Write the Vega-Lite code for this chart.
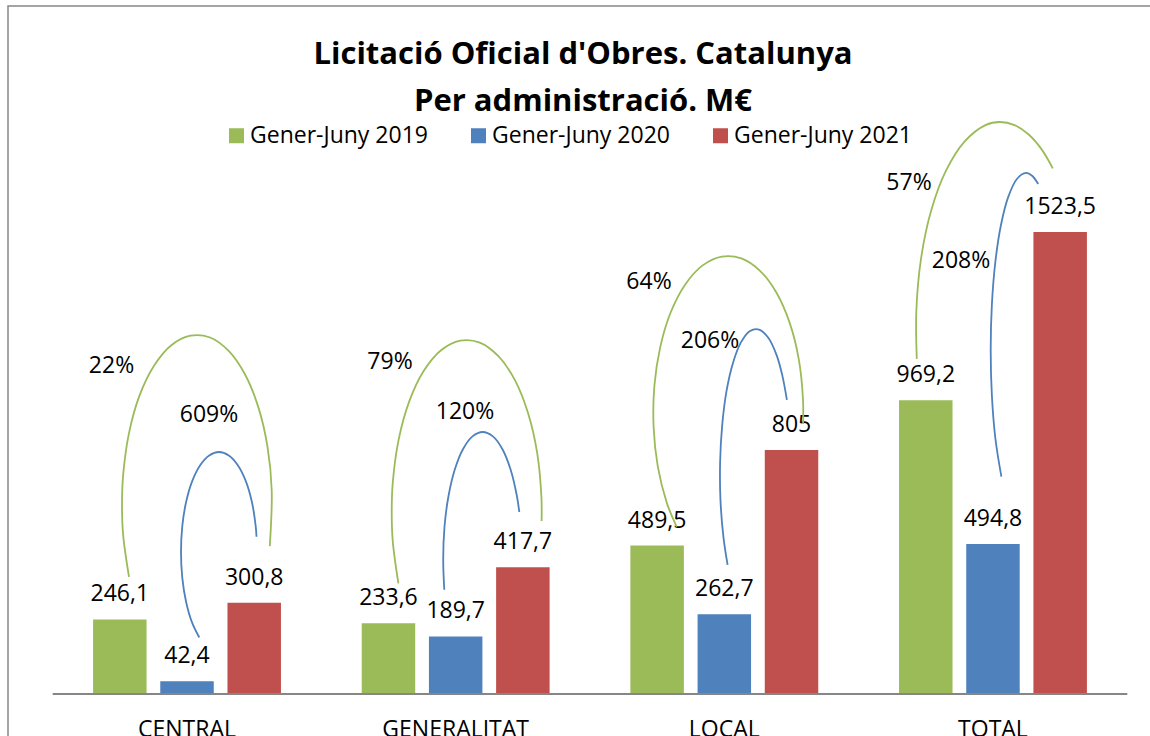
{
  "$schema": "https://vega.github.io/schema/vega-lite/v6.json",
  "width": 1144,
  "height": 732,
  "autosize": {"type": "none"},
  "padding": {"left": 8, "top": 6, "right": -2, "bottom": -2},
  "background": "#ffffff",
  "config": {
    "view": {"stroke": "#868686", "strokeWidth": 1.5},
    "font": "Open Sans",
    "text": {"font": "Open Sans", "fontSize": 23, "color": "#000000"},
    "locale": {"number": {"decimal": ",", "thousands": ".", "grouping": [3], "currency": ["", " €"]}}
  },
  "title": {
    "text": ["Licitació Oficial d'Obres. Catalunya", "Per administració. M€"],
    "font": "Open Sans",
    "fontSize": 31,
    "fontWeight": "bold",
    "color": "#000000",
    "lineHeight": 47,
    "anchor": "middle",
    "baseline": "alphabetic",
    "offset": -136,
    "dx": 3
  },
  "datasets": {
    "bars": [
      {"cat": "CENTRAL", "serie": "Gener-Juny 2019", "value": 246.1},
      {"cat": "CENTRAL", "serie": "Gener-Juny 2020", "value": 42.4},
      {"cat": "CENTRAL", "serie": "Gener-Juny 2021", "value": 300.8},
      {"cat": "GENERALITAT", "serie": "Gener-Juny 2019", "value": 233.6},
      {"cat": "GENERALITAT", "serie": "Gener-Juny 2020", "value": 189.7},
      {"cat": "GENERALITAT", "serie": "Gener-Juny 2021", "value": 417.7},
      {"cat": "LOCAL", "serie": "Gener-Juny 2019", "value": 489.5},
      {"cat": "LOCAL", "serie": "Gener-Juny 2020", "value": 262.7},
      {"cat": "LOCAL", "serie": "Gener-Juny 2021", "value": 805},
      {"cat": "TOTAL", "serie": "Gener-Juny 2019", "value": 969.2},
      {"cat": "TOTAL", "serie": "Gener-Juny 2020", "value": 494.8},
      {"cat": "TOTAL", "serie": "Gener-Juny 2021", "value": 1523.5}
    ],
    "pcts": [
      {"u": 0.2189, "v": 1081.8, "pct": 0.22},
      {"u": 0.5818, "v": 920.2, "pct": 6.09},
      {"u": 1.2555, "v": 1095.0, "pct": 0.79},
      {"u": 1.5347, "v": 930.1, "pct": 1.20},
      {"u": 2.2196, "v": 1358.9, "pct": 0.64},
      {"u": 2.4467, "v": 1164.3, "pct": 2.06},
      {"u": 3.1874, "v": 1685.4, "pct": 0.57},
      {"u": 3.3810, "v": 1428.1, "pct": 2.08}
    ],
    "arcs": [
      {"arc": "C19", "from": 2019, "i": 0, "u": 0.2840, "v": 386.2},
      {"arc": "C19", "from": 2019, "i": 1, "u": 0.2621, "v": 525.7},
      {"arc": "C19", "from": 2019, "i": 2, "u": 0.2580, "v": 623.4},
      {"arc": "C19", "from": 2019, "i": 3, "u": 0.2621, "v": 721.0},
      {"arc": "C19", "from": 2019, "i": 4, "u": 0.2840, "v": 860.5},
      {"arc": "C19", "from": 2019, "i": 5, "u": 0.3231, "v": 983.9},
      {"arc": "C19", "from": 2019, "i": 6, "u": 0.3771, "v": 1082.5},
      {"arc": "C19", "from": 2019, "i": 7, "u": 0.4415, "v": 1150.4},
      {"arc": "C19", "from": 2019, "i": 8, "u": 0.5129, "v": 1181.7},
      {"arc": "C19", "from": 2019, "i": 9, "u": 0.5859, "v": 1175.8},
      {"arc": "C19", "from": 2019, "i": 10, "u": 0.6551, "v": 1131.3},
      {"arc": "C19", "from": 2019, "i": 11, "u": 0.7165, "v": 1052.8},
      {"arc": "C19", "from": 2019, "i": 12, "u": 0.7657, "v": 945.3},
      {"arc": "C19", "from": 2019, "i": 13, "u": 0.7996, "v": 815.0},
      {"arc": "C19", "from": 2019, "i": 14, "u": 0.8152, "v": 672.2},
      {"arc": "C19", "from": 2019, "i": 15, "u": 0.8081, "v": 487.8},
      {"arc": "G19", "from": 2019, "i": 0, "u": 1.2868, "v": 364.8},
      {"arc": "G19", "from": 2019, "i": 1, "u": 1.2660, "v": 501.7},
      {"arc": "G19", "from": 2019, "i": 2, "u": 1.2619, "v": 600.3},
      {"arc": "G19", "from": 2019, "i": 3, "u": 1.2660, "v": 698.9},
      {"arc": "G19", "from": 2019, "i": 4, "u": 1.2881, "v": 840.4},
      {"arc": "G19", "from": 2019, "i": 5, "u": 1.3272, "v": 965.0},
      {"arc": "G19", "from": 2019, "i": 6, "u": 1.3808, "v": 1065.0},
      {"arc": "G19", "from": 2019, "i": 7, "u": 1.4456, "v": 1133.6},
      {"arc": "G19", "from": 2019, "i": 8, "u": 1.5168, "v": 1165.3},
      {"arc": "G19", "from": 2019, "i": 9, "u": 1.5896, "v": 1159.0},
      {"arc": "G19", "from": 2019, "i": 10, "u": 1.6590, "v": 1114.1},
      {"arc": "G19", "from": 2019, "i": 11, "u": 1.7205, "v": 1035.0},
      {"arc": "G19", "from": 2019, "i": 12, "u": 1.7696, "v": 925.8},
      {"arc": "G19", "from": 2019, "i": 13, "u": 1.8035, "v": 794.2},
      {"arc": "G19", "from": 2019, "i": 14, "u": 1.8191, "v": 649.7},
      {"arc": "G19", "from": 2019, "i": 15, "u": 1.8198, "v": 570.6},
      {"arc": "L19", "from": 2019, "i": 0, "u": 2.3227, "v": 551.5},
      {"arc": "L19", "from": 2019, "i": 1, "u": 2.2862, "v": 629.6},
      {"arc": "L19", "from": 2019, "i": 2, "u": 2.2524, "v": 749.7},
      {"arc": "L19", "from": 2019, "i": 3, "u": 2.2367, "v": 881.6},
      {"arc": "L19", "from": 2019, "i": 4, "u": 2.2397, "v": 1016.8},
      {"arc": "L19", "from": 2019, "i": 5, "u": 2.2619, "v": 1145.8},
      {"arc": "L19", "from": 2019, "i": 6, "u": 2.3009, "v": 1259.8},
      {"arc": "L19", "from": 2019, "i": 7, "u": 2.3546, "v": 1350.9},
      {"arc": "L19", "from": 2019, "i": 8, "u": 2.4193, "v": 1413.6},
      {"arc": "L19", "from": 2019, "i": 9, "u": 2.4906, "v": 1442.6},
      {"arc": "L19", "from": 2019, "i": 10, "u": 2.5634, "v": 1436.7},
      {"arc": "L19", "from": 2019, "i": 11, "u": 2.6328, "v": 1395.8},
      {"arc": "L19", "from": 2019, "i": 12, "u": 2.6942, "v": 1323.6},
      {"arc": "L19", "from": 2019, "i": 13, "u": 2.7433, "v": 1224.0},
      {"arc": "L19", "from": 2019, "i": 14, "u": 2.7772, "v": 1103.9},
      {"arc": "L19", "from": 2019, "i": 15, "u": 2.7928, "v": 972.0},
      {"arc": "L19", "from": 2019, "i": 16, "u": 2.7932, "v": 890.5},
      {"arc": "T19", "from": 2019, "i": 0, "u": 3.2164, "v": 1105.2},
      {"arc": "T19", "from": 2019, "i": 1, "u": 3.2146, "v": 1260.2},
      {"arc": "T19", "from": 2019, "i": 2, "u": 3.2321, "v": 1435.0},
      {"arc": "T19", "from": 2019, "i": 3, "u": 3.2700, "v": 1594.4},
      {"arc": "T19", "from": 2019, "i": 4, "u": 3.3251, "v": 1725.9},
      {"arc": "T19", "from": 2019, "i": 5, "u": 3.3940, "v": 1821.9},
      {"arc": "T19", "from": 2019, "i": 6, "u": 3.4718, "v": 1876.3},
      {"arc": "T19", "from": 2019, "i": 7, "u": 3.5261, "v": 1886.6},
      {"arc": "T19", "from": 2019, "i": 8, "u": 3.5805, "v": 1876.3},
      {"arc": "T19", "from": 2019, "i": 9, "u": 3.6330, "v": 1845.3},
      {"arc": "T19", "from": 2019, "i": 10, "u": 3.6825, "v": 1794.6},
      {"arc": "T19", "from": 2019, "i": 11, "u": 3.7227, "v": 1733.5},
      {"arc": "C20", "from": 2020, "i": 0, "u": 0.5457, "v": 186.3},
      {"arc": "C20", "from": 2020, "i": 1, "u": 0.5189, "v": 235.2},
      {"arc": "C20", "from": 2020, "i": 2, "u": 0.4966, "v": 303.4},
      {"arc": "C20", "from": 2020, "i": 3, "u": 0.4824, "v": 382.9},
      {"arc": "C20", "from": 2020, "i": 4, "u": 0.4776, "v": 468.3},
      {"arc": "C20", "from": 2020, "i": 5, "u": 0.4824, "v": 553.8},
      {"arc": "C20", "from": 2020, "i": 6, "u": 0.4966, "v": 633.3},
      {"arc": "C20", "from": 2020, "i": 7, "u": 0.5189, "v": 701.5},
      {"arc": "C20", "from": 2020, "i": 8, "u": 0.5483, "v": 754.0},
      {"arc": "C20", "from": 2020, "i": 9, "u": 0.5825, "v": 787.0},
      {"arc": "C20", "from": 2020, "i": 10, "u": 0.6190, "v": 798.2},
      {"arc": "C20", "from": 2020, "i": 11, "u": 0.6555, "v": 787.0},
      {"arc": "C20", "from": 2020, "i": 12, "u": 0.6897, "v": 754.0},
      {"arc": "C20", "from": 2020, "i": 13, "u": 0.7192, "v": 701.5},
      {"arc": "C20", "from": 2020, "i": 14, "u": 0.7415, "v": 633.3},
      {"arc": "C20", "from": 2020, "i": 15, "u": 0.7556, "v": 553.8},
      {"arc": "C20", "from": 2020, "i": 16, "u": 0.7586, "v": 518.8},
      {"arc": "G20", "from": 2020, "i": 0, "u": 1.4577, "v": 343.7},
      {"arc": "G20", "from": 2020, "i": 1, "u": 1.4536, "v": 442.0},
      {"arc": "G20", "from": 2020, "i": 2, "u": 1.4584, "v": 551.5},
      {"arc": "G20", "from": 2020, "i": 3, "u": 1.4733, "v": 653.0},
      {"arc": "G20", "from": 2020, "i": 4, "u": 1.4967, "v": 740.4},
      {"arc": "G20", "from": 2020, "i": 5, "u": 1.5271, "v": 807.4},
      {"arc": "G20", "from": 2020, "i": 6, "u": 1.5626, "v": 849.6},
      {"arc": "G20", "from": 2020, "i": 7, "u": 1.6006, "v": 864.1},
      {"arc": "G20", "from": 2020, "i": 8, "u": 1.6386, "v": 849.6},
      {"arc": "G20", "from": 2020, "i": 9, "u": 1.6741, "v": 807.4},
      {"arc": "G20", "from": 2020, "i": 10, "u": 1.7044, "v": 740.4},
      {"arc": "G20", "from": 2020, "i": 11, "u": 1.7279, "v": 653.0},
      {"arc": "G20", "from": 2020, "i": 12, "u": 1.7368, "v": 600.3},
      {"arc": "L20", "from": 2020, "i": 0, "u": 2.5122, "v": 425.8},
      {"arc": "L20", "from": 2020, "i": 1, "u": 2.4966, "v": 518.5},
      {"arc": "L20", "from": 2020, "i": 2, "u": 2.4857, "v": 638.5},
      {"arc": "L20", "from": 2020, "i": 3, "u": 2.4843, "v": 764.2},
      {"arc": "L20", "from": 2020, "i": 4, "u": 2.4921, "v": 886.9},
      {"arc": "L20", "from": 2020, "i": 5, "u": 2.5081, "v": 998.7},
      {"arc": "L20", "from": 2020, "i": 6, "u": 2.5319, "v": 1091.0},
      {"arc": "L20", "from": 2020, "i": 7, "u": 2.5613, "v": 1158.7},
      {"arc": "L20", "from": 2020, "i": 8, "u": 2.5944, "v": 1196.6},
      {"arc": "L20", "from": 2020, "i": 9, "u": 2.6294, "v": 1201.9},
      {"arc": "L20", "from": 2020, "i": 10, "u": 2.6637, "v": 1174.8},
      {"arc": "L20", "from": 2020, "i": 11, "u": 2.6949, "v": 1116.8},
      {"arc": "L20", "from": 2020, "i": 12, "u": 2.7158, "v": 1050.8},
      {"arc": "L20", "from": 2020, "i": 13, "u": 2.7329, "v": 970.3},
      {"arc": "T20", "from": 2020, "i": 0, "u": 3.5313, "v": 716.7},
      {"arc": "T20", "from": 2020, "i": 1, "u": 3.5090, "v": 842.7},
      {"arc": "T20", "from": 2020, "i": 2, "u": 3.4960, "v": 983.5},
      {"arc": "T20", "from": 2020, "i": 3, "u": 3.4915, "v": 1134.6},
      {"arc": "T20", "from": 2020, "i": 4, "u": 3.4960, "v": 1285.6},
      {"arc": "T20", "from": 2020, "i": 5, "u": 3.5090, "v": 1426.5},
      {"arc": "T20", "from": 2020, "i": 6, "u": 3.5299, "v": 1547.5},
      {"arc": "T20", "from": 2020, "i": 7, "u": 3.5572, "v": 1640.2},
      {"arc": "T20", "from": 2020, "i": 8, "u": 3.5891, "v": 1698.6},
      {"arc": "T20", "from": 2020, "i": 9, "u": 3.6229, "v": 1718.4},
      {"arc": "T20", "from": 2020, "i": 10, "u": 3.6456, "v": 1709.5},
      {"arc": "T20", "from": 2020, "i": 11, "u": 3.6683, "v": 1682.1}
    ]
  },
  "layer": [
    {
      "data": {"name": "bars"},
      "encoding": {
        "x": {
          "field": "cat", "type": "nominal",
          "sort": ["CENTRAL", "GENERALITAT", "LOCAL", "TOTAL"],
          "scale": {"paddingInner": 0, "paddingOuter": 0.12916, "align": 0.644},
          "axis": {
            "orient": "bottom", "offset": -44, "title": null, "domain": false,
            "ticks": false, "tickSize": 0, "labelPadding": 24, "labelAngle": 0,
            "labelFont": "Open Sans", "labelFontSize": 23, "labelColor": "#000000", "grid": false
          }
        },
        "xOffset": {
          "field": "serie", "type": "nominal",
          "sort": ["Gener-Juny 2019", "Gener-Juny 2020", "Gener-Juny 2021"],
          "scale": {"paddingInner": 0.204, "paddingOuter": 0.601}
        },
        "y": {
          "field": "value", "type": "quantitative",
          "scale": {"domain": [-145.1, 2269.1], "nice": false, "zero": false},
          "axis": null
        }
      },
      "layer": [
        {
          "mark": {"type": "bar"},
          "encoding": {
            "color": {
              "field": "serie", "type": "nominal",
              "scale": {
                "domain": ["Gener-Juny 2019", "Gener-Juny 2020", "Gener-Juny 2021"],
                "range": ["#9BBB59", "#4F81BD", "#C0504D"]
              },
              "legend": {
                "orient": "none", "legendX": 217, "legendY": 118,
                "direction": "horizontal", "title": null,
                "symbolType": "square", "symbolSize": 225, "symbolStrokeWidth": 0,
                "labelFont": "Open Sans", "labelFontSize": 23, "labelColor": "#000000",
                "labelLimit": 400, "labelOffset": 2, "columnPadding": 39, "padding": 0
              }
            }
          }
        },
        {
          "mark": {"type": "text", "baseline": "middle", "align": "center", "dy": -25},
          "encoding": {
            "text": {"field": "value", "type": "quantitative", "format": "~f"}
          }
        }
      ]
    },
    {
      "layer": [
        {
          "data": {"values": [{}]},
          "mark": {"type": "rule", "color": "#868686", "strokeWidth": 2},
          "encoding": {
            "x": {"datum": 0, "type": "quantitative", "scale": {"domain": [-0.16639, 4.09194], "nice": false, "zero": false}, "axis": null},
            "x2": {"datum": 4},
            "y": {"datum": 0, "type": "quantitative", "axis": null}
          }
        },
        {
          "data": {"name": "arcs"},
          "transform": [{"filter": "datum.from == 2019"}],
          "mark": {"type": "line", "interpolate": "catmull-rom", "color": "#9BBB59", "strokeWidth": 1.8},
          "encoding": {
            "x": {"field": "u", "type": "quantitative", "scale": {"domain": [-0.16639, 4.09194], "nice": false, "zero": false}, "axis": null},
            "y": {"field": "v", "type": "quantitative", "axis": null},
            "detail": {"field": "arc", "type": "nominal"},
            "order": {"field": "i", "type": "quantitative"}
          }
        },
        {
          "data": {"name": "arcs"},
          "transform": [{"filter": "datum.from == 2020"}],
          "mark": {"type": "line", "interpolate": "catmull-rom", "color": "#4F81BD", "strokeWidth": 1.8},
          "encoding": {
            "x": {"field": "u", "type": "quantitative", "scale": {"domain": [-0.16639, 4.09194], "nice": false, "zero": false}, "axis": null},
            "y": {"field": "v", "type": "quantitative", "axis": null},
            "detail": {"field": "arc", "type": "nominal"},
            "order": {"field": "i", "type": "quantitative"}
          }
        },
        {
          "data": {"name": "pcts"},
          "mark": {"type": "text", "baseline": "middle", "align": "center"},
          "encoding": {
            "x": {"field": "u", "type": "quantitative", "scale": {"domain": [-0.16639, 4.09194], "nice": false, "zero": false}, "axis": null},
            "y": {"field": "v", "type": "quantitative", "axis": null},
            "text": {"field": "pct", "type": "quantitative", "format": ".0%"}
          }
        }
      ]
    }
  ],
  "resolve": {"scale": {"x": "independent"}}
}
